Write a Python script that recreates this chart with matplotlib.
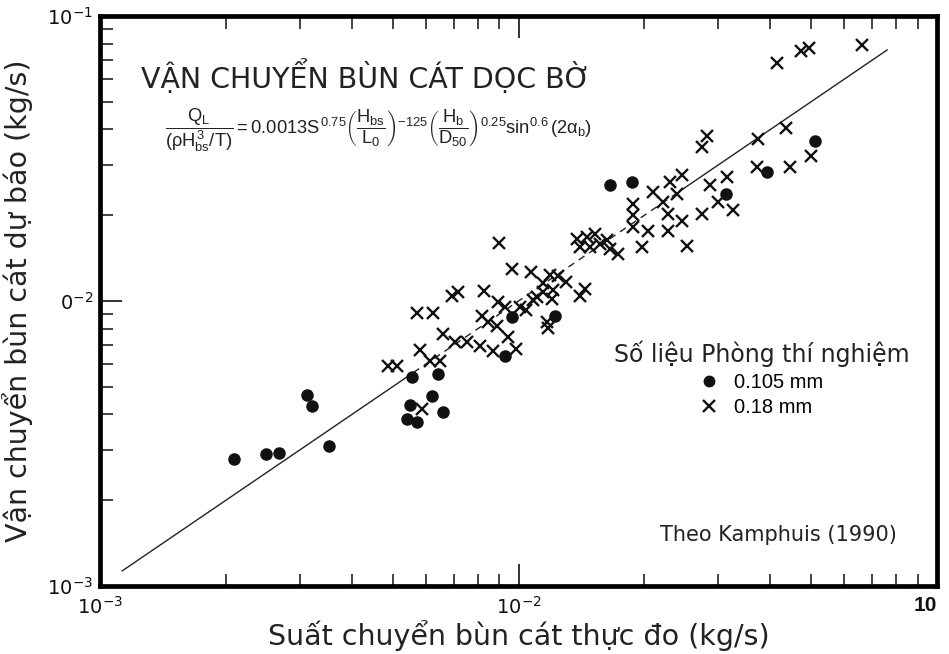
import matplotlib
matplotlib.use("Agg")
import matplotlib.pyplot as plt
from matplotlib.ticker import FixedLocator, FixedFormatter, LogLocator, NullFormatter
from matplotlib.lines import Line2D

plt.rcParams['font.family'] = ['DejaVu Sans']
plt.rcParams['mathtext.fontset'] = 'custom'
plt.rcParams['mathtext.rm'] = 'Liberation Sans'
plt.rcParams['mathtext.it'] = 'Liberation Sans'
plt.rcParams['mathtext.bf'] = 'Liberation Sans:bold'

# Sand D50 = 0.105 mm (measured, predicted) in kg/s
fine_measured = [2.09e-3, 2.49e-3, 2.68e-3, 3.13e-3, 3.21e-3, 3.53e-3, 5.57e-3,
                 6.41e-3, 6.22e-3, 5.50e-3, 5.41e-3, 5.73e-3, 6.61e-3, 9.63e-3,
                 9.29e-3, 1.22e-2, 1.65e-2, 1.87e-2, 3.13e-2, 3.92e-2, 5.11e-2]
fine_predicted = [2.79e-3, 2.90e-3, 2.93e-3, 4.68e-3, 4.27e-3, 3.11e-3, 5.43e-3,
                  5.55e-3, 4.65e-3, 4.32e-3, 3.87e-3, 3.75e-3, 4.07e-3, 8.77e-3,
                  6.43e-3, 8.89e-3, 2.56e-2, 2.62e-2, 2.37e-2, 2.84e-2, 3.65e-2]

# Sand D50 = 0.18 mm
coarse_measured = [4.89e-3, 5.12e-3, 5.82e-3, 6.15e-3, 6.49e-3, 5.88e-3, 5.71e-3,
                   6.26e-3, 6.61e-3, 6.92e-3, 7.18e-3, 7.05e-3, 7.52e-3, 8.09e-3,
                   8.71e-3, 8.27e-3, 8.17e-3, 8.47e-3, 8.95e-3, 9.29e-3, 8.89e-3,
                   9.45e-3, 9.86e-3, 8.98e-3, 9.63e-3, 1.071e-2, 1.146e-2, 1.189e-2,
                   1.245e-2, 1.299e-2, 1.008e-2, 1.085e-2, 1.042e-2, 1.168e-2, 1.178e-2,
                   1.105e-2, 1.146e-2, 1.211e-2, 1.200e-2, 1.403e-2, 1.442e-2,
                   1.378e-2, 1.456e-2, 1.523e-2, 1.403e-2, 1.482e-2, 1.565e-2, 1.625e-2,
                   1.654e-2, 1.732e-2, 1.881e-2, 1.881e-2, 1.881e-2, 2.043e-2, 1.970e-2,
                   2.100e-2, 2.218e-2, 2.301e-2, 2.455e-2, 2.388e-2, 2.280e-2, 2.455e-2,
                   2.280e-2, 2.523e-2, 2.741e-2, 3.002e-2, 3.254e-2, 3.144e-2, 2.868e-2,
                   2.817e-2, 2.741e-2, 3.725e-2, 4.357e-2, 3.708e-2, 4.454e-2, 5.013e-2,
                   4.157e-2, 4.720e-2, 4.944e-2, 6.610e-2]
coarse_predicted = [5.93e-3, 5.90e-3, 6.75e-3, 6.18e-3, 6.18e-3, 4.18e-3, 9.07e-3,
                    9.07e-3, 7.67e-3, 1.045e-2, 1.076e-2, 7.17e-3, 7.17e-3, 6.98e-3,
                    6.70e-3, 1.080e-2, 8.89e-3, 8.42e-3, 9.90e-3, 9.56e-3, 8.14e-3,
                    7.46e-3, 6.79e-3, 1.597e-2, 1.298e-2, 1.259e-2, 1.161e-2, 1.229e-2,
                    1.219e-2, 1.164e-2, 9.51e-3, 1.012e-2, 9.33e-3, 8.47e-3, 8.07e-3,
                    1.031e-2, 1.074e-2, 1.089e-2, 1.018e-2, 1.045e-2, 1.104e-2,
                    1.654e-2, 1.676e-2, 1.722e-2, 1.546e-2, 1.546e-2, 1.589e-2, 1.632e-2,
                    1.526e-2, 1.465e-2, 2.196e-2, 2.005e-2, 1.817e-2, 1.755e-2, 1.546e-2,
                    2.412e-2, 2.228e-2, 2.616e-2, 2.762e-2, 2.380e-2, 2.014e-2, 1.906e-2,
                    1.755e-2, 1.554e-2, 2.014e-2, 2.219e-2, 2.080e-2, 2.729e-2, 2.547e-2,
                    3.787e-2, 3.472e-2, 3.710e-2, 4.040e-2, 2.954e-2, 2.954e-2, 3.221e-2,
                    6.840e-2, 7.560e-2, 7.700e-2, 7.910e-2]

# Perfect-agreement line (predicted = measured); middle part drawn dashed
fit_breaks = [1.13e-3, 5.3e-3, 2.5e-2, 7.6e-2]

x_major = [1e-3, 1e-2, 1e-1]
x_labels = [r'$\mathregular{10^{-3}}$', r'$\mathregular{10^{-2}}$', '10']
y_major = [1e-3, 1e-2, 1e-1]
y_labels = [r'$\mathregular{10^{-3}}$', r'$\mathregular{0^{-2}}$', r'$\mathregular{10^{-1}}$']

fig = plt.figure(figsize=(9.49, 6.54), dpi=100)
ax = fig.add_axes([100 / 949, 1 - 586 / 654, 837 / 949, 570 / 654])
ax.set_xscale('log')
ax.set_yscale('log')
ax.set_xlim(1e-3, 1e-1)
ax.set_ylim(1e-3, 1e-1)

lc = '#222222'
ax.plot(fit_breaks[0:2], fit_breaks[0:2], color=lc, lw=1.0, zorder=1)
ax.plot(fit_breaks[1:3], fit_breaks[1:3], color=lc, lw=1.0, ls=(0, (5, 4)), zorder=1)
ax.plot(fit_breaks[2:4], fit_breaks[2:4], color=lc, lw=1.0, zorder=1)

ax.plot(coarse_measured, coarse_predicted, ls='none', marker='x', ms=8.5, mew=1.7,
        color='#111111', zorder=2)
ax.plot(fine_measured, fine_predicted, ls='none', marker='o', ms=8, color='#111111',
        mec='#111111', zorder=3)

for s in ax.spines.values():
    s.set_linewidth(3.4)
    s.set_color('black')

ax.xaxis.set_major_locator(FixedLocator(x_major))
ax.xaxis.set_major_formatter(FixedFormatter(x_labels))
ax.yaxis.set_major_locator(FixedLocator(y_major))
ax.yaxis.set_major_formatter(FixedFormatter(y_labels))
ax.xaxis.set_minor_locator(LogLocator(base=10, subs=range(2, 10)))
ax.yaxis.set_minor_locator(LogLocator(base=10, subs=range(2, 10)))
ax.xaxis.set_minor_formatter(NullFormatter())
ax.yaxis.set_minor_formatter(NullFormatter())
ax.tick_params(which='both', direction='in', top=True, right=False, bottom=True, left=True,
               color='#222222', labelsize=14, labelcolor='#111111')
ax.tick_params(which='major', length=16, width=1.3)
ax.tick_params(which='minor', length=9, width=1.2)
ax.tick_params(axis='x', which='major', pad=7)
ax.tick_params(axis='y', which='major', pad=5)

# the last x label sits just inside the right edge, in bold
last = ax.xaxis.get_major_ticks()[2].label1
last.set_horizontalalignment('right')
last.set_fontfamily('Liberation Sans')
last.set_fontweight('bold')
last.set_fontsize(15)

ax.set_xlabel('Suất chuyển bùn cát thực đo (kg/s)', fontsize=20.5, labelpad=2, color='#222222')
ax.set_ylabel('Vận chuyển bùn cát dự báo (kg/s)', fontsize=20.5, labelpad=10, color='#222222')

ax.text(0.0485, 0.893, 'VẬN CHUYỂN BÙN CÁT DỌC BỜ', transform=ax.transAxes,
        fontsize=20.5, color='#222222', va='center', ha='left')

formula = (r'$\dfrac{Q_L}{(\rho H_{bs}^3/T)} = 0.0013S^{0.75}'
           r'\left(\dfrac{H_{bs}}{L_0}\right)^{-125}'
           r'\left(\dfrac{H_b}{D_{50}}\right)^{0.25}\sin^{0.6}(2\alpha_b)$')
ax.text(0.078, 0.8, formula, transform=ax.transAxes, fontsize=13.2, color='#222222',
        va='center', ha='left')

ax.text(0.952, 0.09, 'Theo Kamphuis (1990)', transform=ax.transAxes, fontsize=15,
        color='#222222', ha='right', va='center')

handles = [Line2D([], [], ls='none', marker='o', ms=7.5, color='#111111'),
           Line2D([], [], ls='none', marker='x', ms=8, mew=1.7, color='#111111')]
leg = ax.legend(handles, ['0.105 mm', '0.18 mm'], title='Số liệu Phòng thí nghiệm',
                loc='center', bbox_to_anchor=(0.791, 0.363), frameon=False,
                prop={'family': 'Liberation Sans', 'size': 14.5},
                title_fontproperties={'family': 'DejaVu Sans', 'size': 17},
                handlelength=0.8, handletextpad=0.8, labelspacing=0.3,
                borderaxespad=0)
leg.get_title().set_color('#222222')

fig.savefig('out.png', dpi=100)
